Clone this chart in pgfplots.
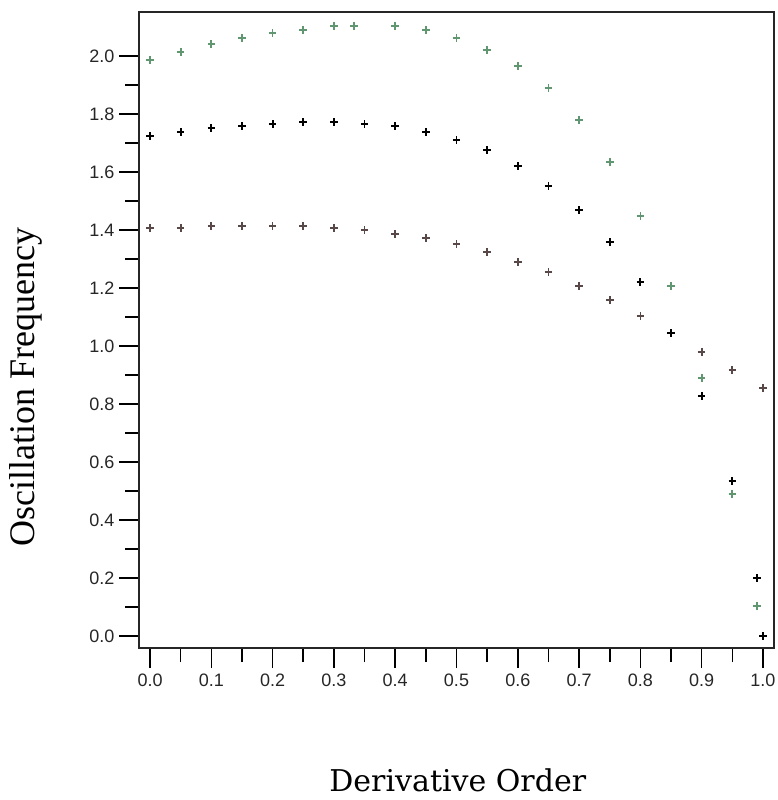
\documentclass[border=0pt]{standalone}
\usepackage{pgfplots}
\pgfplotsset{compat=1.18}
\usepackage{fontspec}
\setmainfont{Liberation Sans}
\newfontfamily\ylabfont{Liberation Serif}
\newfontfamily\xlabfont{DejaVu Serif}
\definecolor{sgreen}{RGB}{96,150,112}
\definecolor{sgray}{RGB}{88,72,72}
\begin{document}
\begin{tikzpicture}
\useasboundingbox (0,0) rectangle (778bp,800bp);
\begin{axis}[
  at={(139bp,152bp)}, anchor=south west,
  scale only axis, width=635bp, height=636bp,
  xmin=-0.018, xmax=1.018, ymin=-0.041, ymax=2.152,
  xtick={0,0.1,0.2,0.3,0.4,0.5,0.6,0.7,0.8,0.9,1.0},
  ytick={0,0.2,0.4,0.6,0.8,1.0,1.2,1.4,1.6,1.8,2.0},
  minor x tick num=1, minor y tick num=1,
  tick pos=left, tick align=outside,
  major tick length=20bp, minor tick length=14bp,
  every tick/.style={black, line width=1.6bp},
  axis line style={line width=1.8bp, black!85},
  /pgf/number format/.cd, fixed, fixed zerofill, precision=1, assume math mode=true,
  /pgfplots/.cd,
  tick label style={font=\fontsize{18bp}{21bp}\selectfont, black!85},
  xticklabel style={yshift=-2bp},
  yticklabel style={xshift=-1bp},
  xlabel={Derivative Order},
  ylabel={Oscillation Frequency},
  xlabel style={font=\xlabfont\fontsize{30bp}{34bp}\selectfont, at={(axis description cs:0.502,-0.226)}, anchor=base},
  ylabel style={font=\ylabfont\fontsize{36bp}{40bp}\selectfont, at={(axis description cs:-0.164,0.41)}, anchor=base},
]
\addplot[only marks, mark=+, mark size=3.8bp, line width=1.7bp, color=sgray] coordinates {
(0.00,1.407) (0.05,1.407) (0.10,1.414) (0.15,1.414) (0.20,1.414) (0.25,1.414)
(0.30,1.407) (0.35,1.400) (0.40,1.386) (0.45,1.372) (0.50,1.352) (0.55,1.324)
(0.60,1.290) (0.65,1.255) (0.70,1.207) (0.75,1.159) (0.80,1.103) (0.85,1.045)
(0.90,0.979) (0.95,0.917) (1.00,0.855)
};
\addplot[only marks, mark=+, mark size=3.8bp, line width=1.7bp, color=sgreen] coordinates {
(0.00,1.986) (0.05,2.014) (0.10,2.041) (0.15,2.062) (0.20,2.079) (0.25,2.090)
(0.30,2.103) (0.333,2.103) (0.40,2.103) (0.45,2.090) (0.50,2.062) (0.55,2.021)
(0.60,1.966) (0.65,1.890) (0.70,1.780) (0.75,1.634) (0.80,1.448) (0.85,1.207)
(0.90,0.890) (0.95,0.490) (0.99,0.103)
};
\addplot[only marks, mark=+, mark size=3.8bp, line width=1.8bp, color=black] coordinates {
(0.00,1.724) (0.05,1.738) (0.10,1.752) (0.15,1.759) (0.20,1.766) (0.25,1.772)
(0.30,1.772) (0.35,1.766) (0.40,1.759) (0.45,1.738) (0.50,1.710) (0.55,1.676)
(0.60,1.621) (0.65,1.552) (0.70,1.469) (0.75,1.359) (0.80,1.221) (0.85,1.045)
(0.90,0.828) (0.95,0.534) (0.99,0.200) (1.00,0.000)
};
\end{axis}
\end{tikzpicture}
\end{document}
